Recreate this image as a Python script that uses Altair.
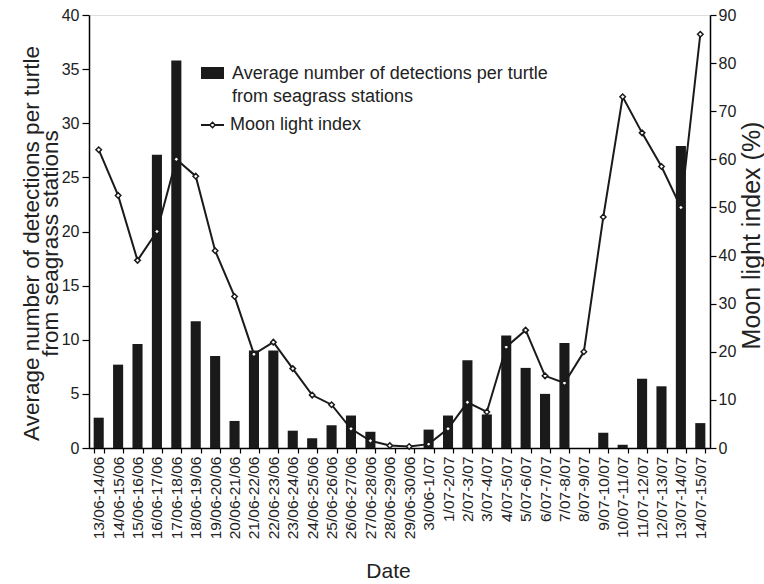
import altair as alt
import pandas as pd

dates = ["13/06-14/06","14/06-15/06","15/06-16/06","16/06-17/06","17/06-18/06","18/06-19/06",
         "19/06-20/06","20/06-21/06","21/06-22/06","22/06-23/06","23/06-24/06","24/06-25/06",
         "25/06-26/06","26/06-27/06","27/06-28/06","28/06-29/06","29/06-30/06","30/06-1/07",
         "1/07-2/07","2/07-3/07","3/07-4/07","4/07-5/07","5/07-6/07","6/07-7/07","7/07-8/07",
         "8/07-9/07","9/07-10/07","10/07-11/07","11/07-12/07","12/07-13/07","13/07-14/07","14/07-15/07"]
detections = [2.8, 7.7, 9.6, 27.1, 35.8, 11.7, 8.5, 2.5, 9.0, 9.0, 1.6, 0.9, 2.1, 3.0, 1.5, 0.0,
              0.0, 1.7, 3.0, 8.1, 3.1, 10.4, 7.4, 5.0, 9.7, 0.0, 1.4, 0.3, 6.4, 5.7, 27.9, 2.3]
moon = [62, 52.5, 39, 45, 60, 56.5, 41, 31.5, 19.5, 22, 16.5, 11, 9, 4, 1.5, 0.5,
        0.3, 0.8, 4, 9.5, 7.5, 21, 24.5, 15, 13.5, 20, 48, 73, 65.5, 58.5, 50, 86]

df = pd.DataFrame({"date": dates, "det": detections, "moon": moon})

FONT = "Liberation Sans"
INK = "#222222"
x = alt.X("date:N", sort=dates, title="Date",
          scale=alt.Scale(paddingInner=0.48, paddingOuter=0.24),
          axis=alt.Axis(labelAngle=270, labelFontSize=15.5, labelColor=INK, labelPadding=3,
                        tickBand="extent", tickSize=5, tickColor="black", domainColor="black",
                        titleFontSize=21, titleFontWeight="normal", titleColor=INK,
                        titleX=299, titleY=123, titleAlign="center", titleBaseline="middle"))

bars = alt.Chart(df).mark_bar(color="#1a1a1a").encode(
    x=x,
    y=alt.Y("det:Q", scale=alt.Scale(domain=[0, 40]),
            title=["Average number of detections per turtle", "from seagrass stations"],
            axis=alt.Axis(values=list(range(0, 41, 5)), grid=False, labelFontSize=16,
                          labelColor=INK, tickSize=7, tickColor="black", domainColor="black",
                          titleFontSize=22.5, titleFontWeight="normal", titleColor=INK,
                          titleLineHeight=19, labelPadding=3,
                          titleX=-58, titleY=228, titleAngle=270, titleAlign="center",
                          titleBaseline="middle"))
)

line = alt.Chart(df).mark_line(color="#1a1a1a", strokeWidth=2,
                               point=alt.OverlayMarkDef(shape="diamond", filled=True, fill="white",
                                                        stroke="#1a1a1a", strokeWidth=1.5, size=30)).encode(
    x=alt.X("date:N", sort=dates),
    y=alt.Y("moon:Q", scale=alt.Scale(domain=[0, 90]), title="Moon light index (%)",
            axis=alt.Axis(orient="right", values=list(range(0, 91, 10)), grid=False,
                          labelFontSize=16, labelColor=INK, tickSize=6, tickColor="black",
                          domainColor="black", titleFontSize=25, titleFontWeight="normal",
                          titleColor=INK, labelPadding=2,
                          titleX=41, titleY=220, titleAngle=270, titleAlign="center",
                          titleBaseline="middle"))
)

leg = alt.Data(values=[{"k": 1}])
leg_box = alt.Chart(leg).mark_rect(color="#1a1a1a").encode(
    x=alt.value(112), x2=alt.value(135), y=alt.value(52), y2=alt.value(64))
leg_t1 = alt.Chart(leg).mark_text(align="left", baseline="alphabetic", fontSize=18, font=FONT,
                                  color=INK, lineHeight=23).encode(
    x=alt.value(143), y=alt.value(64),
    text=alt.value(["Average number of detections per turtle", "from seagrass stations"]))
leg_line = alt.Chart(leg).mark_rule(color="#1a1a1a", strokeWidth=2).encode(
    x=alt.value(112), x2=alt.value(135), y=alt.value(110))
leg_pt = alt.Chart(leg).mark_point(shape="diamond", filled=True, fill="white", stroke="#1a1a1a",
                                   strokeWidth=1.5, size=30, opacity=1).encode(
    x=alt.value(123.5), y=alt.value(110))
leg_t2 = alt.Chart(leg).mark_text(align="left", baseline="middle", fontSize=18, font=FONT,
                                  color=INK).encode(
    x=alt.value(141), y=alt.value(110), text=alt.value("Moon light index"))

chart = alt.layer(bars, line, leg_box, leg_t1, leg_line, leg_pt, leg_t2).resolve_scale(
    y="independent"
).properties(
    width=621, height=433, autosize="none",
    padding={"left": 89, "top": 15, "right": 54, "bottom": 136}
).configure_view(stroke="black", strokeWidth=1.5).configure(font=FONT).configure_axis(
    labelFont=FONT, titleFont=FONT, domainWidth=1.5, tickWidth=1.2)

chart.save("out.html", embed_options={"renderer": "svg", "actions": False})
